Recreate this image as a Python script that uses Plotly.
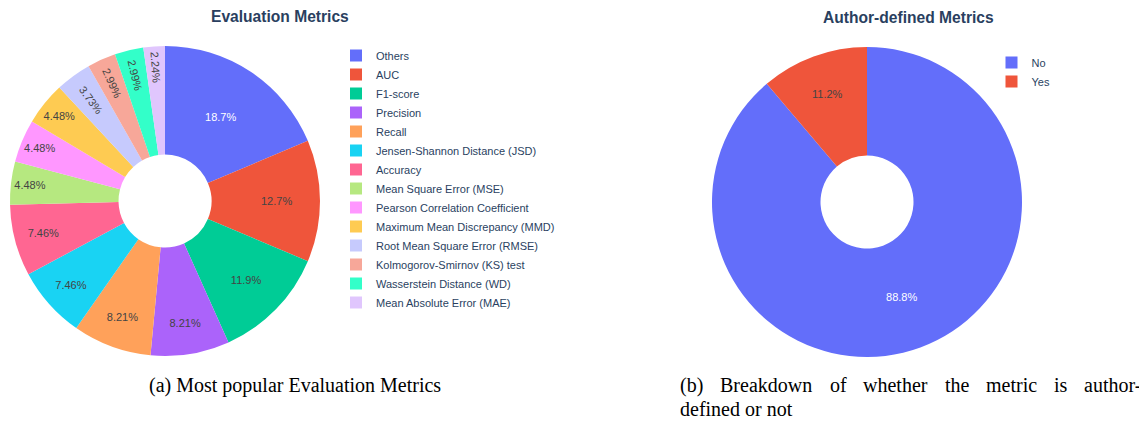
import plotly.graph_objects as go

# ---- data ----
metric_labels = [
    "Others", "AUC", "F1-score", "Precision", "Recall",
    "Jensen-Shannon Distance (JSD)", "Accuracy", "Mean Square Error (MSE)",
    "Pearson Correlation Coefficient", "Maximum Mean Discrepancy (MMD)",
    "Root Mean Square Error (RMSE)", "Kolmogorov-Smirnov (KS) test",
    "Wasserstein Distance (WD)", "Mean Absolute Error (MAE)",
]
metric_counts = [25, 17, 16, 11, 11, 10, 10, 6, 6, 6, 5, 4, 4, 3]

author_labels = ["No", "Yes"]
author_counts = [119, 15]

title_left = "Evaluation Metrics"
title_right = "Author-defined Metrics"
caption_a = "(a) Most popular Evaluation Metrics"
caption_b_line1 = ["(b)", "Breakdown", "of", "whether", "the", "metric", "is", "author-"]
caption_b_line2 = "defined or not"

# ---- layout helpers (page body has an 8px margin) ----
OFF = 8
W, H = 1139, 411
def px_x(x):
    return (x - OFF) / W
def px_y(y):
    return 1 - (y - OFF) / H

SANS = "Arial, Liberation Sans, sans-serif"
SERIF = "Liberation Serif, Times New Roman, serif"

fig = go.Figure()

fig.add_trace(go.Pie(
    labels=metric_labels, values=metric_counts,
    hole=0.3, sort=False, direction="clockwise", rotation=0,
    textinfo="percent", textposition="inside",
    textfont=dict(size=11, family=SANS),
    domain=dict(x=[px_x(10), px_x(320)], y=[px_y(356), px_y(46)]),
    legend="legend",
))

fig.add_trace(go.Pie(
    labels=author_labels, values=author_counts,
    hole=0.3, sort=False, direction="clockwise", rotation=0,
    textinfo="percent", textposition="inside",
    textfont=dict(size=11, family=SANS),
    marker=dict(colors=["#636efa", "#EF553B"]),
    domain=dict(x=[px_x(712), px_x(1022)], y=[px_y(357), px_y(47)]),
    legend="legend2",
))

annotations = [
    dict(text=f"<b>{title_left}</b>", x=px_x(280), y=px_y(17),
         xanchor="center", yanchor="middle", showarrow=False,
         font=dict(size=15.6, family=SANS, color="#2a3f5f")),
    dict(text=f"<b>{title_right}</b>", x=px_x(908), y=px_y(18),
         xanchor="center", yanchor="middle", showarrow=False,
         font=dict(size=15.6, family=SANS, color="#2a3f5f")),
    dict(text=caption_a, x=px_x(147), y=px_y(385),
         xanchor="left", yanchor="middle", showarrow=False,
         font=dict(size=20, family=SERIF, color="#000000")),
    dict(text=caption_b_line2, x=px_x(678), y=px_y(409),
         xanchor="left", yanchor="middle", showarrow=False,
         font=dict(size=20, family=SERIF, color="#000000")),
]
# justified first line of caption (b)
word_starts = [678, 718, 827.5, 861, 942.5, 984, 1052, 1082]
for w, xs in zip(caption_b_line1, word_starts):
    annotations.append(dict(text=w, x=px_x(xs), y=px_y(385),
                            xanchor="left", yanchor="middle", showarrow=False,
                            font=dict(size=20, family=SERIF, color="#000000")))

fig.update_layout(
    width=W, height=H,
    margin=dict(l=0, r=0, t=0, b=0),
    paper_bgcolor="white", plot_bgcolor="white",
    font=dict(family=SANS, size=11, color="#2a3f5f"),
    showlegend=True,
    legend=dict(x=px_x(336), y=px_y(41), xanchor="left", yanchor="top",
                font=dict(size=11, family=SANS, color="#2a3f5f"),
                bgcolor="rgba(0,0,0,0)"),
    legend2=dict(x=px_x(991.5), y=px_y(48), xanchor="left", yanchor="top",
                 font=dict(size=11, family=SANS, color="#2a3f5f"),
                 bgcolor="rgba(0,0,0,0)"),
    annotations=annotations,
)

fig.write_html("out.html")
